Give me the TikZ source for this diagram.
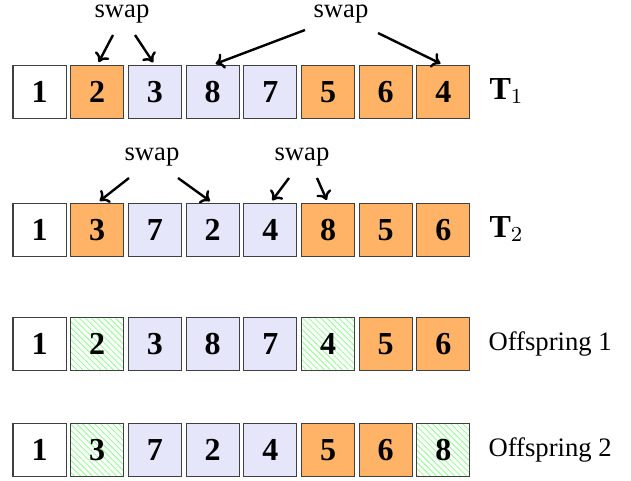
\documentclass[tikz,border=0pt]{standalone}
\usepackage{fontspec}
\setmainfont{Liberation Serif}
\usetikzlibrary{patterns.meta,arrows.meta}
\definecolor{gorange}{HTML}{FFB366}
\definecolor{glav}{HTML}{E6E6FA}
\tikzset{
  gene/.style={draw=black!75, line width=0.4pt, minimum size=19.9pt, inner sep=0pt,
    font=\large\bfseries},
  gw/.style={gene, fill=white},
  go/.style={gene, fill=gorange},
  gl/.style={gene, fill=glav},
  gh/.style={gene, pattern={Lines[angle=-45, distance=1.6pt, line width=0.3pt]},
    pattern color=green!45},
  swaplbl/.style={font=\normalsize, inner sep=0pt},
  rowlbl/.style={anchor=west, font=\normalsize, inner sep=0pt},
  swaparrow/.style={-{To[length=3.2pt, width=6pt, line width=0.9pt]}, line width=0.9pt, shorten >=1.2pt}
}
\begin{document}
\begin{tikzpicture}[x=0.375pt, y=-0.375pt]
  \useasboundingbox (0,0) rectangle (631,480);
  % chromosomes: row / y centre / gene:style list
  \foreach \r/\yy/\genes in {
      1/92/{1/gw,2/go,3/gl,8/gl,7/gl,5/go,6/go,4/go},
      2/230/{1/gw,3/go,7/gl,2/gl,4/gl,8/go,5/go,6/go},
      3/344/{1/gw,2/gh,3/gl,8/gl,7/gl,4/gh,5/go,6/go},
      4/450/{1/gw,3/gh,7/gl,2/gl,4/gl,5/go,6/go,8/gh}} {
    \foreach \g/\st [count=\c] in \genes {
      \node[\st] (r\r c\c) at ({39.5+57.7*(\c-1)},\yy) {\g};
    }
  }
  % row labels
  \node[rowlbl, font=\large] (t1) at (489,91) {$\mathbf{T}_1$};
  \node[rowlbl, font=\large] (t2) at (489,229) {$\mathbf{T}_2$};
  \node[rowlbl] (o1) at (488,344) {Offspring 1};
  \node[rowlbl] (o2) at (488,450) {Offspring 2};
  % swap markers
  \node[swaplbl] (s1) at (122,14) {swap};
  \node[swaplbl] (s2) at (341,14) {swap};
  \node[swaplbl] (s3) at (152,157) {swap};
  \node[swaplbl] (s4) at (302,157) {swap};
  \coordinate (s1a) at (113,35);
  \coordinate (s1b) at (135,35);
  \coordinate (s2a) at (305,30);
  \coordinate (s2b) at (378,33);
  \coordinate (s3a) at (129,178);
  \coordinate (s3b) at (178,178);
  \coordinate (s4a) at (289,178);
  \coordinate (s4b) at (317,178);
  \draw[swaparrow] (s1a) -- (r1c2.north);
  \draw[swaparrow] (s1b) -- (r1c3.north);
  \draw[swaparrow] (s2a) -- (r1c4.north);
  \draw[swaparrow] (s2b) -- (r1c8.north);
  \draw[swaparrow] (s3a) -- (r2c2.north);
  \draw[swaparrow] (s3b) -- (r2c4.north);
  \draw[swaparrow] (s4a) -- (r2c5.north);
  \draw[swaparrow] (s4b) -- (r2c6.north);
\end{tikzpicture}
\end{document}
